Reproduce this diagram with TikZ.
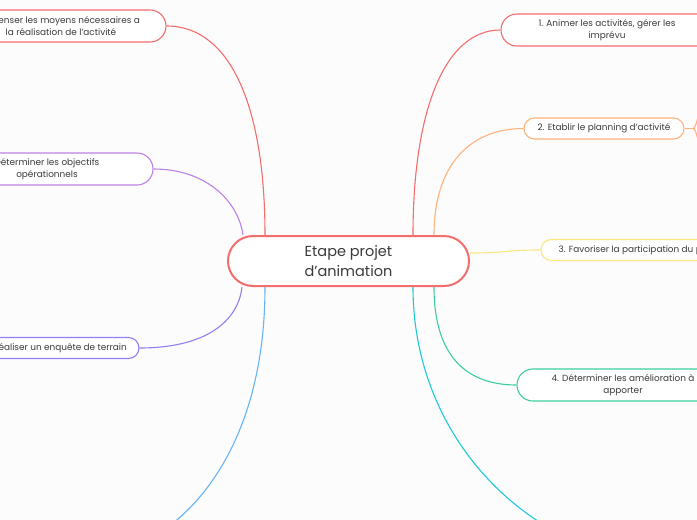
\documentclass[tikz,border=0pt]{standalone}
\usepackage{fontspec}
\setmainfont{Poppins}

\definecolor{redline}{HTML}{F46D6D}
\definecolor{orangeline}{HTML}{FFB27C}
\definecolor{yellowline}{HTML}{FBE77E}
\definecolor{greenline}{HTML}{3ECD9F}
\definecolor{cyanline}{HTML}{1CCAD8}
\definecolor{blueline}{HTML}{66B3F7}
\definecolor{purpleline}{HTML}{BC82E4}
\definecolor{violetline}{HTML}{8E82F2}
\definecolor{textgrey}{HTML}{3A3A3A}
\definecolor{bgcol}{HTML}{FCFCFD}

\begin{document}
\begin{tikzpicture}[x=1pt, y=-1pt,
		centre/.style={draw=redline, fill=white, line width=2, rounded corners=25,
			minimum width=241, minimum height=50, align=center, text=textgrey,
			font=\fontsize{14.5}{20}\selectfont},
		branch/.style={draw, fill=white, line width=1.1, rounded corners=16,
			minimum height=32, inner sep=0, align=center, text=textgrey,
			font=\fontsize{8.9}{12}\selectfont},
		flat/.style={branch, rounded corners=10.5, minimum height=21},
		link/.style={line width=1.1}]
			\useasboundingbox[fill=bgcol] (0, 0) rectangle (697, 520);

			% free ends
			\coordinate (bl) at (75, 560);
			\coordinate (br) at (660, 560);
			\coordinate (oa) at (706, 98);
			\coordinate (ob) at (706, 158);
			\coordinate (ok) at (693, 128.5);

			\node[centre] (centre) at (348.5, 261)
				{Etape projet\\d'animation};

			% left side
			\node[branch, draw=redline, minimum width=210] (moyens) at (61, 26)
				{Recenser les moyens nécessaires a\\la réalisation de l'activité};
			\node[branch, draw=purpleline, minimum width=212] (objectifs) at (47, 169)
				{Déterminer les objectifs\\opérationnels};
			\node[flat, draw=violetline, minimum width=158] (enquete) at (60, 348)
				{Réaliser un enquête de terrain};

			% right side
			\node[branch, draw=redline, minimum width=212] (animer) at (607, 30)
				{1. Animer les activités, gérer les\\imprévu};
			\node[flat, draw=orangeline, minimum width=160] (planning) at (604, 128.5)
				{2. Etablir le planning d'activité};
			\node[flat, draw=yellowline, minimum width=200] (public) at (641, 250)
				{3. Favoriser la participation du public};
			\node[branch, draw=greenline, minimum width=212] (amelioration) at (623, 385)
				{4. Déterminer les amélioration à\\apporter};

			\draw[link, redline]
				(moyens.east) .. controls (232, 26) and (265, 110) .. ([xshift=-83.5]centre.north);
			\draw[link, purpleline]
				(objectifs.east) .. controls (205, 169) and (238, 200) .. ([xshift=-105.5]centre.north);
			\draw[link, violetline]
				(enquete.east) .. controls (205, 348) and (238, 322) .. ([xshift=-106.5]centre.south);
			\draw[link, blueline]
				([xshift=-83.5]centre.south) .. controls (265, 470) and (165, 560) .. (bl);

			\draw[link, redline]
				([xshift=64.5]centre.north) .. controls (413, 110) and (445, 30) .. (animer.west);
			\draw[link, orangeline]
				([xshift=85.5]centre.north) .. controls (434, 165) and (470, 128.5) .. (planning.west);
			\draw[link, orangeline]
				(planning.east) -- (ok);
			\draw[link, orangeline]
				(ok) .. controls (697, 128.5) and (697, 112) .. (oa);
			\draw[link, orangeline]
				(ok) .. controls (697, 128.5) and (697, 145) .. (ob);
			\draw[link, yellowline]
				([yshift=8]centre.east) .. controls (505, 253) and (505, 250) .. (public.west);
			\draw[link, greenline]
				([xshift=85.5]centre.south) .. controls (434, 360) and (470, 385) .. (amelioration.west);
			\draw[link, cyanline]
				([xshift=64.5]centre.south) .. controls (413, 450) and (545, 560) .. (br);

\end{tikzpicture}
\end{document}
